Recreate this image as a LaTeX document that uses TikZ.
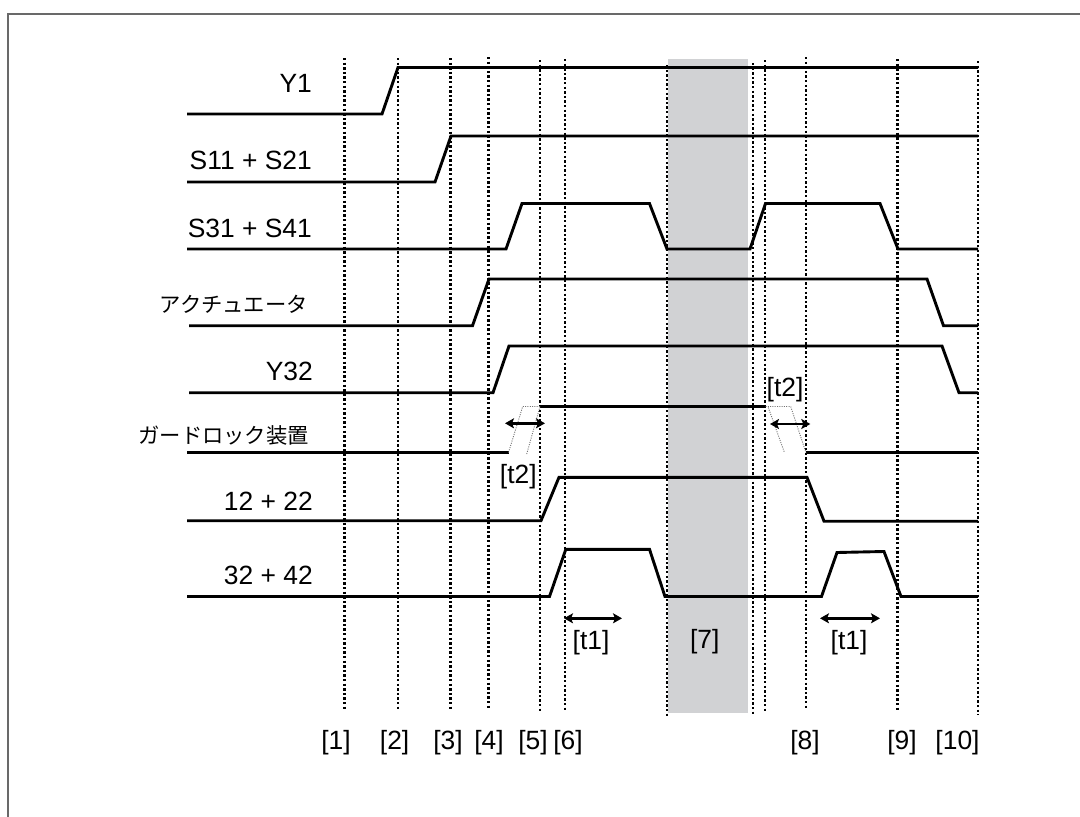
\documentclass[tikz,border=0pt]{standalone}
\usepackage{fontspec}
\setmainfont{Liberation Sans}
\newfontfamily\jpfont{Noto Sans CJK JP}
\usetikzlibrary{arrows.meta}
\definecolor{bandgray}{RGB}{209,210,212}
\definecolor{framegray}{RGB}{105,105,105}
\begin{document}
\begin{tikzpicture}[x=1pt,y=-1pt,
  sig/.style={line width=2.9pt, line join=miter},
  gridline/.style={line width=2.6pt, dash pattern=on 2.4pt off 2.2pt},
  ghost/.style={line width=0.9pt, black!55, dash pattern=on 1pt off 1.3pt},
  dimarrow/.style={line width=2.6pt, {Stealth[length=9pt,width=10pt,inset=2pt]}-{Stealth[length=9pt,width=10pt,inset=2pt]}},
  lbl/.style={font=\fontsize{26.4}{30}\selectfont, inner sep=0pt},
  jlbl/.style={font=\jpfont\fontsize{21.3}{25}\selectfont, inner sep=0pt}]
\useasboundingbox (0,0) rectangle (1080,817);
\fill[white] (0,0) rectangle (1080,817);
% frame
\draw[framegray, line width=1.4pt] (8,817) -- (8,14) -- (1080,14);
% shaded interval
\fill[bandgray] (668,59) rectangle (748,713);
% vertical dotted lines
\foreach \x/\a/\b in {344.5/58/711, 398/58/711, 450.5/58/711, 488.5/57/710,
  540/60/713, 565/59/711, 667/65/718, 753/63/716, 765/60/713, 806/57/710,
  897.5/59/711, 978/61/715}
  \draw[gridline] (\x,\a) -- (\x,\b);
% signal labels
\node[lbl, anchor=east] (lY1) at (312,83.3) {Y1};
\node[lbl, anchor=east] (lS11) at (312,160) {S11 + S21};
\node[lbl, anchor=east] (lS31) at (312,228) {S31 + S41};
\node[jlbl, anchor=east] (lAct) at (308,304) {アクチュエータ};
\node[lbl, anchor=east] (lY32) at (313,371) {Y32};
\node[jlbl, anchor=east] (lGL) at (309,435) {ガードロック装置};
\node[lbl, anchor=east] (l12) at (313,501.5) {12 + 22};
\node[lbl, anchor=east] (l32) at (313,575.7) {32 + 42};
% signals
\draw[sig] (187,114) -- (382,114) -- (398,67.5) -- (978,67.5);
\draw[sig] (187,182) -- (435,182) -- (451,136) -- (978,136);
\draw[sig] (187,249) -- (506,249) -- (522,203.5) -- (649.5,203.5) -- (667,249)
  -- (750,249) -- (765.5,203.5) -- (880,203.5) -- (898,249) -- (978,249);
\draw[sig] (189,325.7) -- (472.5,325.7) -- (489,279) -- (927,279) -- (943.5,325.7) -- (978,325.7);
\draw[sig] (189,392.7) -- (493,392.7) -- (509,346) -- (942,346) -- (959,392.7) -- (978,392.7);
\draw[sig] (187,452.5) -- (508.5,452.5);
\draw[sig] (540,406.5) -- (765.5,406.5);
\draw[sig] (806,452.8) -- (978,452.8);
\draw[sig] (187,520.7) -- (541,520.7) -- (559,477.3) -- (807,477.3) -- (824,521.2) -- (978,521.2);
\draw[sig] (187,596.5) -- (549.5,596.5) -- (565.8,549.3) -- (649.5,549.3) -- (665,596.5)
  -- (821.5,596.5) -- (837,552.5) -- (884,551.5) -- (901,596.5) -- (978,596.5);
% guard-lock transition ghosts
\draw[ghost] (508.5,452.5) -- (522.7,406.5) -- (540,406.5);
\draw[ghost] (526.7,454) -- (540,406.5);
\draw[ghost] (765.5,406.5) -- (790.7,406.5) -- (806,452.8);
\draw[ghost] (768.3,407.5) -- (784.5,452.7);
% time dimension arrows
\coordinate (t2aL) at (505,423.3);
\coordinate (t2aR) at (545,423.3);
\coordinate (t2bL) at (770,424);
\coordinate (t2bR) at (810.3,424);
\coordinate (t1aL) at (564,618.3);
\coordinate (t1aR) at (622,618.3);
\coordinate (t1bL) at (820,618.3);
\coordinate (t1bR) at (880,618.3);
\draw[dimarrow] (t2aL) -- (t2aR);
\draw[dimarrow] (t2bL) -- (t2bR);
\draw[dimarrow] (t1aL) -- (t1aR);
\draw[dimarrow] (t1bL) -- (t1bR);
\node[lbl] (lt2a) at (518.3,476.7) {[t2]};
\node[lbl] (lt2b) at (785,390) {[t2]};
\node[lbl] (lt1a) at (591,643) {[t1]};
\node[lbl] (lt1b) at (849,643) {[t1]};
\node[lbl] (l7) at (704.7,641.7) {[7]};
% step labels
\node[lbl] (s1) at (336,743) {[1]};
\node[lbl] (s2) at (394.6,743) {[2]};
\node[lbl] (s3) at (448,743) {[3]};
\node[lbl] (s4) at (489,743) {[4]};
\node[lbl] (s5) at (533,743) {[5]};
\node[lbl] (s6) at (568,743) {[6]};
\node[lbl] (s8) at (805,743) {[8]};
\node[lbl] (s9) at (902,743) {[9]};
\node[lbl] (s10) at (957.5,743) {[10]};
\end{tikzpicture}
\end{document}
